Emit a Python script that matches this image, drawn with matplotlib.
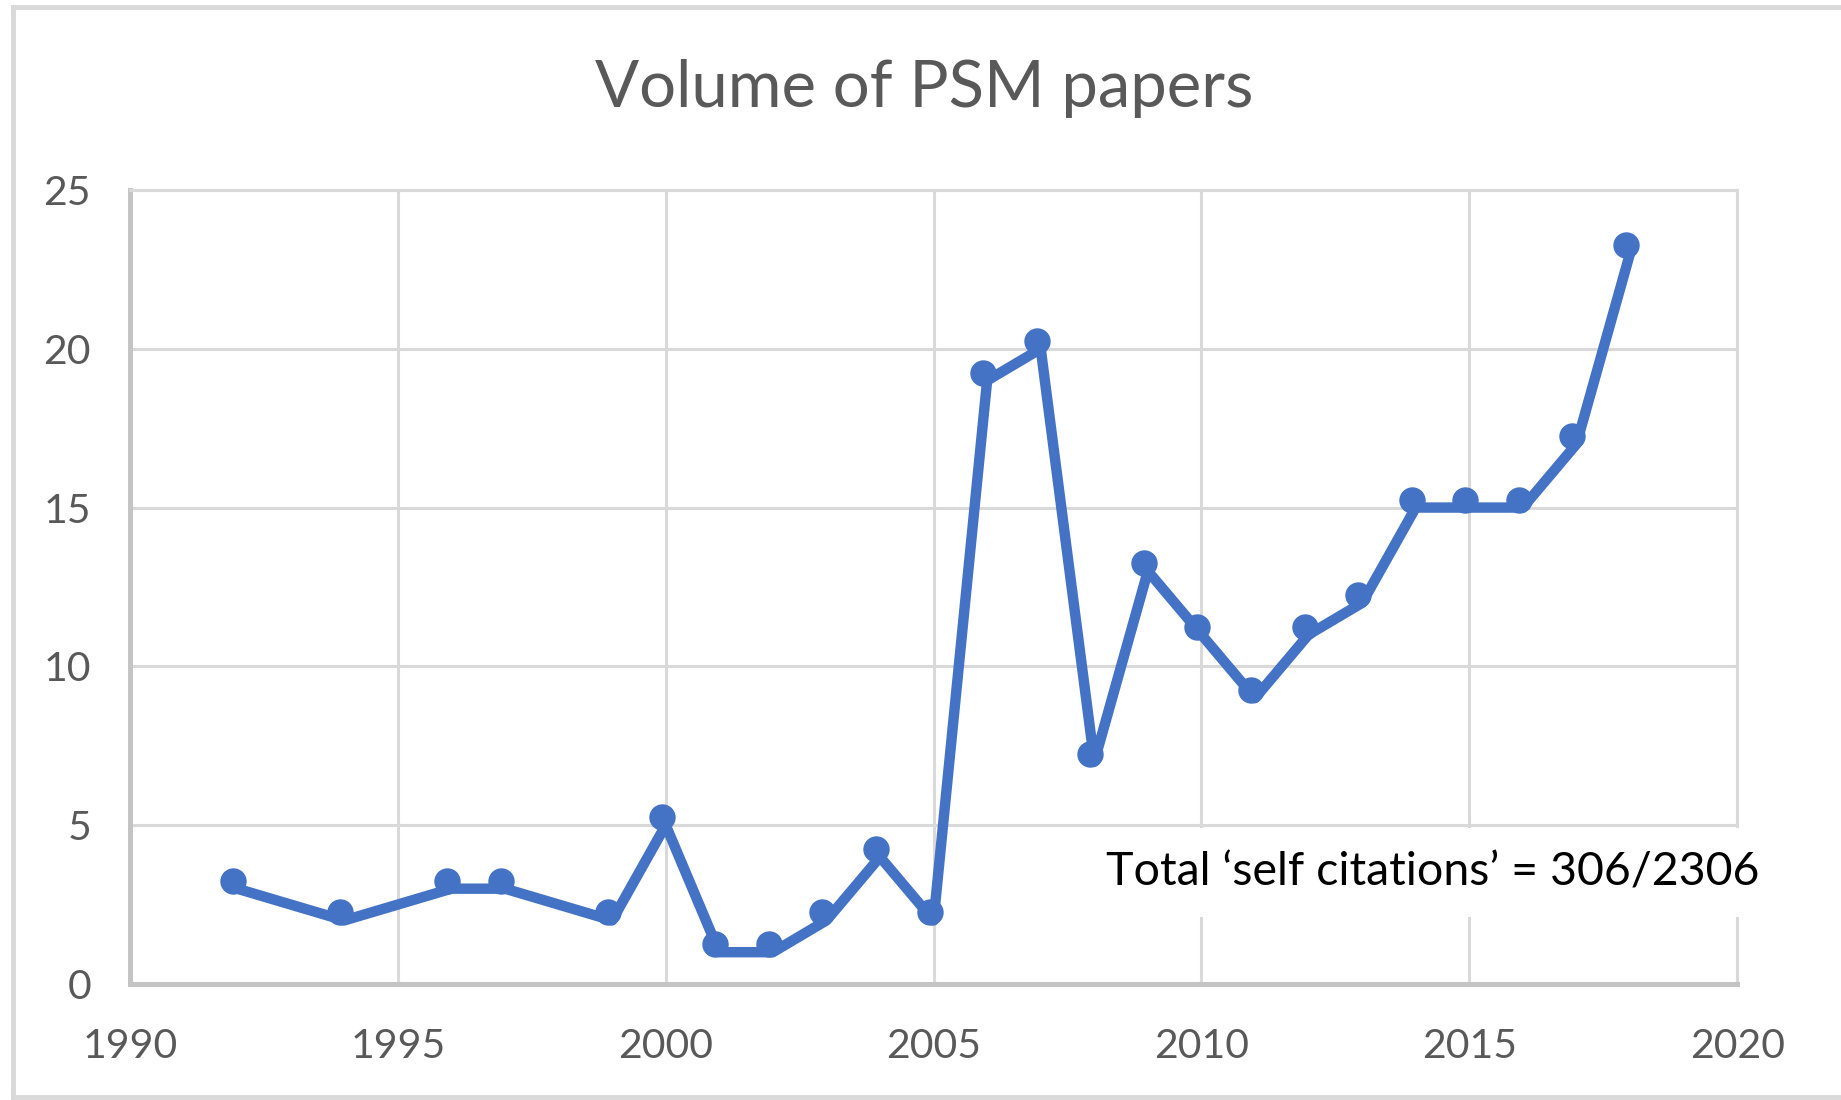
import matplotlib.pyplot as plt
from matplotlib.lines import Line2D
from matplotlib.transforms import offset_copy

# Values
years = [1992, 1994, 1996, 1997, 1999, 2000, 2001, 2002, 2003, 2004, 2005, 2006,
         2007, 2008, 2009, 2010, 2011, 2012, 2013, 2014, 2015, 2016, 2017, 2018]
papers = [3, 2, 3, 3, 2, 5, 1, 1, 2, 4, 2, 19,
          20, 7, 13, 11, 9, 11, 12, 15, 15, 15, 17, 23]
x_ticks = [1990, 1995, 2000, 2005, 2010, 2015, 2020]
y_ticks = [0, 5, 10, 15, 20, 25]
title = 'Volume of PSM papers'
note = 'Total \u2018self citations\u2019 = 306/2306'

BLUE = '#4472C4'
GRID = '#D9D9D9'
TEXT = '#595959'

plt.rcParams['font.family'] = ['Lato', 'DejaVu Sans']

fig = plt.figure(figsize=(18.41, 11), dpi=100)
ax = fig.add_axes([0.0706, 0.1055, 0.873, 0.7218])

ax.plot(years, papers, color=BLUE, lw=7.5, zorder=3, clip_on=False)
# markers sit a little up-left of the line, like the original
mk = offset_copy(ax.transData, fig, x=-4, y=8, units='dots')
ax.plot(years, papers, 'o', color=BLUE, ms=18, transform=mk, zorder=4, clip_on=False)

ax.set_xlim(1990, 2020)
ax.set_ylim(0, 25)
ax.set_xticks(x_ticks)
ax.set_yticks(y_ticks)
ax.grid(True, color=GRID, lw=2.2)
ax.set_axisbelow(True)
ax.tick_params(length=0, labelsize=29.5, colors=TEXT)
ax.tick_params(axis='x', pad=32)
ax.tick_params(axis='y', pad=28)
for s in ['top', 'right']:
    ax.spines[s].set_color(GRID)
    ax.spines[s].set_linewidth(2.2)
for s in ['left', 'bottom']:
    ax.spines[s].set_color('#C4C4C4')
    ax.spines[s].set_linewidth(3.6)

fig.text(0.502, 0.920, title, ha='center', va='center', fontsize=47, color=TEXT)

ax.text(0.607, 0.1405, note, transform=ax.transAxes, ha='left', va='center',
        fontsize=33.5, color='black', zorder=6,
        bbox=dict(boxstyle='square,pad=0.5', fc='white', ec='none'))

# light outer frame (left, top, bottom)
for xs, ys in [([0.0068, 0.0068], [0.0, 0.994]),
               ([0.0068, 1.0], [0.994, 0.994]),
               ([0.0068, 1.0], [0.003, 0.003])]:
    fig.add_artist(Line2D(xs, ys, color=GRID, lw=3.5, transform=fig.transFigure))

fig.savefig('out.png', dpi=100)
